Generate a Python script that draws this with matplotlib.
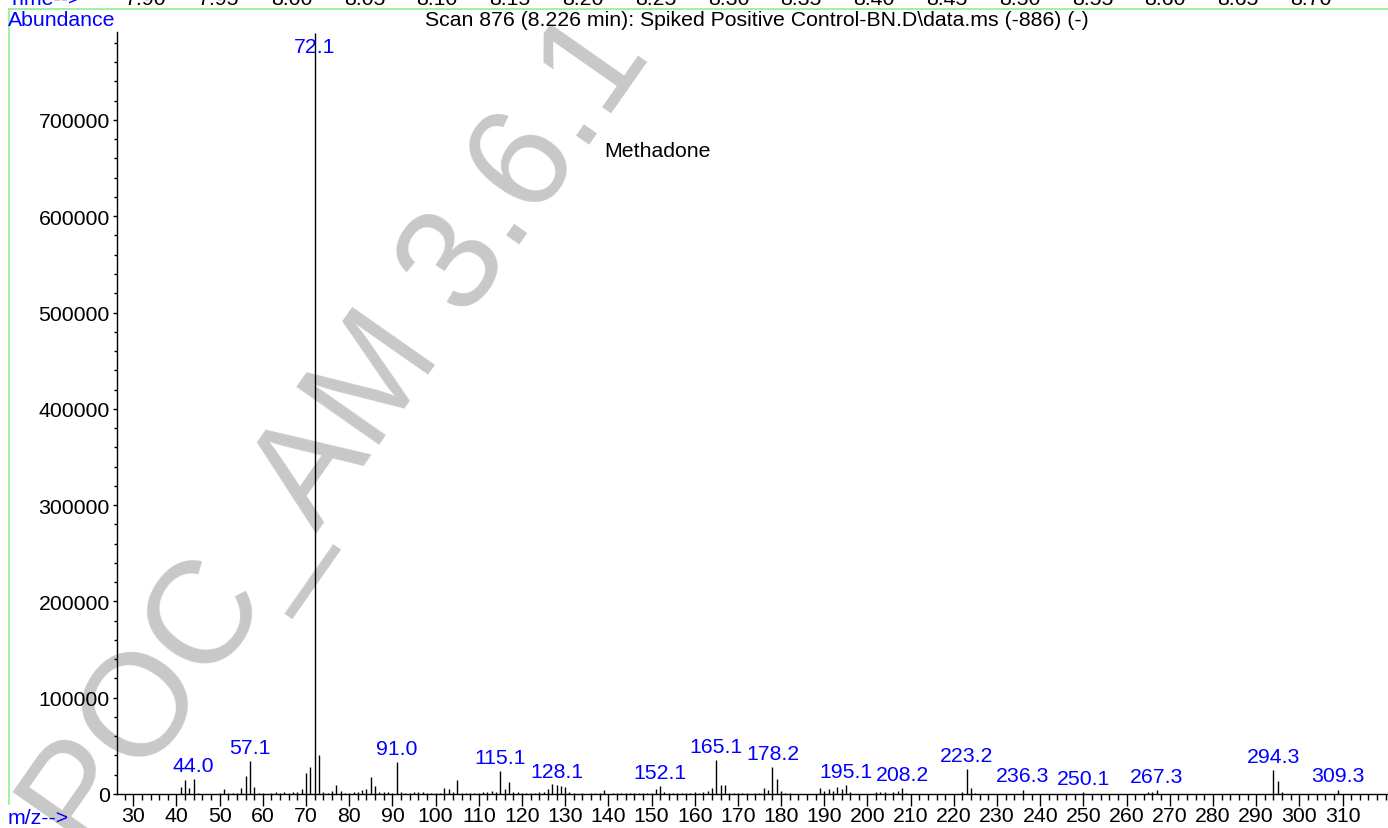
import matplotlib
matplotlib.use("Agg")
import matplotlib.pyplot as plt
from matplotlib.lines import Line2D
import numpy as np

plt.rcParams['font.family'] = ['Liberation Sans', 'DejaVu Sans']

# ---- data ----
mz = [41, 42, 43, 44, 45, 50, 51, 52, 53, 54, 55, 56, 57, 58, 59, 60, 62, 63, 64, 65,
      66, 67, 68, 69, 70, 71, 72, 73, 74, 75, 76, 77, 78, 79, 80, 81, 82, 83, 84, 85,
      86, 87, 88, 89, 90, 91, 92, 93, 94, 95, 96, 97, 98, 99, 100, 101, 102, 103, 104, 105,
      106, 107, 108, 109, 110, 111, 112, 113, 114, 115, 116, 117, 118, 119, 120, 121, 122, 123, 124, 125,
      126, 127, 128, 129, 130, 131, 132, 134, 136, 137, 138, 139, 141, 142, 143, 144, 145, 146, 147, 148,
      149, 150, 151, 152, 153, 154, 155, 156, 157, 158, 159, 160, 161, 162, 163, 164, 165, 166, 167, 168,
      169, 170, 171, 172, 174, 175, 176, 177, 178, 179, 180, 181, 182, 189, 190, 191, 192, 193, 194, 195,
      196, 202, 203, 204, 206, 207, 208, 209, 222, 223, 224, 225, 236, 250, 265, 266, 267, 294, 295, 296,
      309]
abundance = [7000, 14800, 6200, 15600, 1500, 1200, 5200, 1500, 1500, 1500, 6500, 18400, 34300, 7600, 1500, 1000, 1200, 2000, 1500, 2500,
             1500, 2500, 2500, 5000, 22000, 28200, 790000, 40500, 2000, 1500, 3000, 9300, 3000, 1500, 1500, 2000, 2000, 4000, 5500, 17600,
             8300, 2000, 2000, 2500, 1500, 33000, 2500, 1500, 1500, 2000, 2000, 2500, 1500, 1500, 1000, 1500, 6200, 5000, 2000, 14800,
             1500, 1500, 1000, 1500, 1000, 2000, 2500, 3500, 2000, 23900, 5000, 12100, 2500, 2000, 1000, 1200, 1500, 1500, 2000, 2500,
             5000, 10000, 9600, 8600, 6900, 2000, 1000, 1500, 1500, 1500, 1500, 4500, 1500, 1500, 1500, 1500, 1500, 1500, 1500, 1500,
             1500, 1500, 5000, 8000, 2000, 1500, 1500, 1500, 1500, 1500, 1500, 2500, 1500, 2000, 3000, 6000, 35300, 9700, 9000, 1500,
             1000, 1500, 1000, 1500, 1000, 1500, 6000, 4000, 28000, 15600, 3500, 1500, 1000, 5900, 3000, 5000, 3000, 7600, 5000, 9300,
             2000, 2500, 2500, 2000, 2000, 3500, 6000, 1500, 2500, 26000, 6200, 1500, 4500, 2000, 2000, 2500, 4000, 25200, 13500, 2500,
             4500]

label_mz = [44, 57, 91, 115, 128, 152, 165, 178, 195, 208, 223, 236, 250, 267, 294, 309]
label_text = ['44.0', '57.1', '91.0', '115.1', '128.1', '152.1', '165.1', '178.2', '195.1',
              '208.2', '223.2', '236.3', '250.1', '267.3', '294.3', '309.3']
base_peak_mz = 72
base_peak_text = '72.1'

time_labels = ['7.90', '7.95', '8.00', '8.05', '8.10', '8.15', '8.20', '8.25', '8.30',
               '8.35', '8.40', '8.45', '8.50', '8.55', '8.60', '8.65', '8.70']

title = r'Scan 876 (8.226 min): Spiked Positive Control-BN.D\data.ms (-886) (-)'
compound = 'Methadone'
watermark = 'POC_AM 3.6.1'

# ---- figure ----
W, H = 1388, 829
fig = plt.figure(figsize=(W / 100, H / 100), dpi=100)
fig.patch.set_facecolor('white')

def fx(px):
    return px / W

def fy(py):
    return 1 - py / H

FS = 15.3

# watermark (behind)
fig.text(fx(89), fy(859), watermark, fontsize=105, color='#c8c8c8',
         rotation=55, rotation_mode='anchor', ha='left', va='baseline', zorder=-5)

ax = fig.add_axes([fx(116.7), fy(795), fx(1387) - fx(116.7), fy(32.7) - fy(795)])
ax.patch.set_alpha(0)

ax.vlines(mz, 0, abundance, colors='black', linewidth=1.0)

ax.set_xlim(26.16, 320.3)
ax.set_ylim(0, 791600)

for m, t in zip(label_mz, label_text):
    v = abundance[mz.index(m)]
    ax.annotate(t, xy=(m, v), xytext=(0, 3), textcoords='offset points',
                ha='center', va='bottom', color='blue', fontsize=FS)
ax.annotate(base_peak_text, xy=(base_peak_mz, 791600), xytext=(0, -4), textcoords='offset points',
            ha='center', va='top', color='blue', fontsize=FS)

ax.text(fx(604), fy(152), compound, transform=fig.transFigure, ha='left', va='center',
        fontsize=FS, color='black')

for s in ['top', 'right']:
    ax.spines[s].set_visible(False)
ax.spines['left'].set_linewidth(1.0)
ax.spines['bottom'].set_linewidth(1.0)

ax.set_xticks(np.arange(30, 311, 10))
ax.set_xticks(np.arange(28, 321, 2), minor=True)
ax.set_yticks(np.arange(0, 700001, 100000))
ax.set_yticks(np.arange(0, 780001, 20000), minor=True)
ax.set_yticklabels([str(v) for v in range(0, 700001, 100000)])
ax.tick_params(axis='x', which='major', length=8.5, width=1, direction='out', pad=0, labelsize=FS)
ax.tick_params(axis='x', which='minor', length=4.5, width=1, direction='out')
ax.tick_params(axis='y', which='major', length=3, width=1, direction='out', pad=2, labelsize=FS)
ax.tick_params(axis='y', which='minor', length=2, width=1, direction='out')

# header texts
fig.text(fx(8), fy(20), 'Abundance', color='blue', fontsize=FS, ha='left', va='center')
fig.text(fx(757), fy(20), title, color='black', fontsize=FS, ha='center', va='center')
fig.text(fx(8), fy(819), 'm/z-->', color='blue', fontsize=FS, ha='left', va='center')

# cut-off time axis row at top
fig.text(fx(8), fy(5), 'Time-->', color='blue', fontsize=FS, ha='left', va='baseline')
for i, t in enumerate(time_labels):
    fig.text(fx(146 + i * 72.8), fy(5), t, color='black', fontsize=FS, ha='center', va='baseline')

# green frame lines
fig.add_artist(Line2D([fx(9), fx(1388)], [fy(10), fy(10)], color='#90ee90', linewidth=1.2))
fig.add_artist(Line2D([fx(9), fx(9)], [fy(10), fy(805)], color='#90ee90', linewidth=1.2))

fig.savefig('out.png', dpi=100)
